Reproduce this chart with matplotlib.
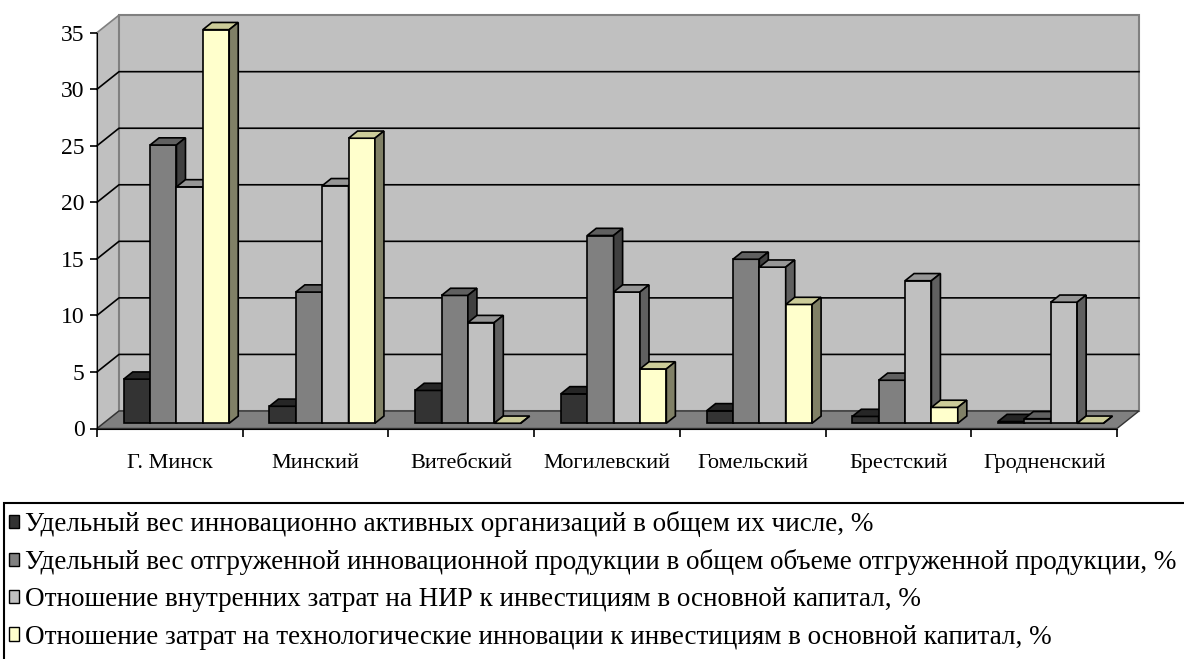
import matplotlib.pyplot as plt
from matplotlib.patches import Polygon, Rectangle, Patch

plt.rcParams["font.family"] = ["Liberation Serif", "DejaVu Serif"]

# data
regions = ["Г. Минск", "Минский", "Витебский", "Могилевский",
           "Гомельский", "Брестский", "Гродненский"]
active_orgs = [3.9, 1.5, 2.9, 2.6, 1.1, 0.6, 0.15]
shipped_share = [24.6, 11.6, 11.3, 16.6, 14.5, 3.8, 0.4]
rnd_ratio = [20.9, 21.0, 8.9, 11.6, 13.8, 12.6, 10.7]
tech_ratio = [34.8, 25.2, 0.0, 4.8, 10.5, 1.4, 0.0]

series_labels = [
    "Удельный вес инновационно активных организаций в общем их числе, %",
    "Удельный вес отгруженной инновационной продукции в общем объеме отгруженной продукции, %",
    "Отношение внутренних затрат на НИР к инвестициям в основной капитал, %",
    "Отношение затрат на технологические инновации к инвестициям в основной капитал, %",
]
series = [active_orgs, shipped_share, rnd_ratio, tech_ratio]

# colours: front, top, side
front_colors = ["#333333", "#808080", "#C0C0C0", "#FFFFCC"]
top_colors = ["#262626", "#606060", "#969696", "#CCCC99"]
side_colors = ["#1C1C1C", "#404040", "#606060", "#808066"]

W, H = 1184, 659
fig = plt.figure(figsize=(W / 100, H / 100), dpi=100)

# front plane of the plot area in pixels
left_px, right_px = 97, 1117
zero_px, top_px = 428.5, 14
ymax = 36.65
ax = fig.add_axes([left_px / W, (H - zero_px) / H,
                   (right_px - left_px) / W, (zero_px - top_px) / H])
ax.set_xlim(0, len(regions))
ax.set_ylim(0, ymax)
ax.patch.set_visible(False)

# depth of the walls in data units
dx, dy = 0.151, 1.55
n = len(regions)

# walls and floor
ax.add_patch(Polygon([(0, 0), (dx, dy), (dx, 35 + dy), (0, 35)], closed=True,
                     fc="#C0C0C0", ec="#808080", lw=1.2, zorder=0, clip_on=False))
ax.add_patch(Rectangle((dx, dy), n, 35, fc="#C0C0C0", ec="#808080", lw=1.5,
                       zorder=0, clip_on=False))
for v in range(5, 35, 5):
    ax.plot([0, dx, n + dx], [v, v + dy, v + dy], color="black", lw=1.2,
            zorder=1, clip_on=False)
ax.add_patch(Polygon([(0, 0), (n, 0), (n + dx, dy), (dx, dy)], closed=True,
                     fc="#808080", ec="#333333", lw=1, zorder=1, clip_on=False))

# bars
bar_w = 0.181
f_front, f_depth = 0.3, 0.41
start = (1 - 4 * bar_w) / 2 + f_front * dx
base = f_front * dy
bdx, bdy = f_depth * dx, f_depth * dy

for j, vals in enumerate(series):
    xs = [i + start + j * bar_w for i in range(n)]
    z = 3 + j
    ax.bar(xs, vals, width=bar_w, bottom=base, align="edge",
           color=front_colors[j], edgecolor="black", lw=1.2, zorder=z)
    for x0, v in zip(xs, vals):
        y1 = base + v
        ax.add_patch(Polygon([(x0, y1), (x0 + bar_w, y1),
                              (x0 + bar_w + bdx, y1 + bdy), (x0 + bdx, y1 + bdy)],
                             closed=True, fc=top_colors[j], ec="black", lw=1.2,
                             zorder=z, clip_on=False))
        ax.add_patch(Polygon([(x0 + bar_w, base), (x0 + bar_w + bdx, base + bdy),
                              (x0 + bar_w + bdx, y1 + bdy), (x0 + bar_w, y1)],
                             closed=True, fc=side_colors[j], ec="black", lw=1.2,
                             zorder=z, clip_on=False))

# axes
for s in ["top", "right"]:
    ax.spines[s].set_visible(False)
ax.spines["left"].set_bounds(0, 35)
ax.spines["left"].set_zorder(10)
ax.spines["bottom"].set_zorder(10)
ax.set_yticks(range(0, 36, 5))
ax.tick_params(axis="y", length=5, width=1.2, labelsize=17, pad=4)
ax.set_xticks(range(n + 1))
ax.set_xticklabels([])
ax.set_xticks([i + 0.5 for i in range(n)], minor=True)
ax.set_xticklabels(regions, minor=True)
ax.tick_params(axis="x", which="major", length=6, width=1.2)
ax.tick_params(axis="x", which="minor", length=0, labelsize=16, pad=18)

# legend with a frame running off the page
fig.add_artist(Rectangle((4 / W, -0.05), 1.2, (H - 503) / H + 0.05,
                         transform=fig.transFigure, fill=False, ec="black", lw=1.5))
handles = [Patch(fc=c, ec="black", lw=1) for c in front_colors]
fig.legend(handles, series_labels, loc="upper left",
           bbox_to_anchor=(9 / W, (H - 511) / H), frameon=False,
           fontsize=19.5, handlelength=0.38, handleheight=0.38,
           handletextpad=0.22, labelspacing=0.45, borderaxespad=0, borderpad=0)

fig.savefig("out.png", dpi=100)
